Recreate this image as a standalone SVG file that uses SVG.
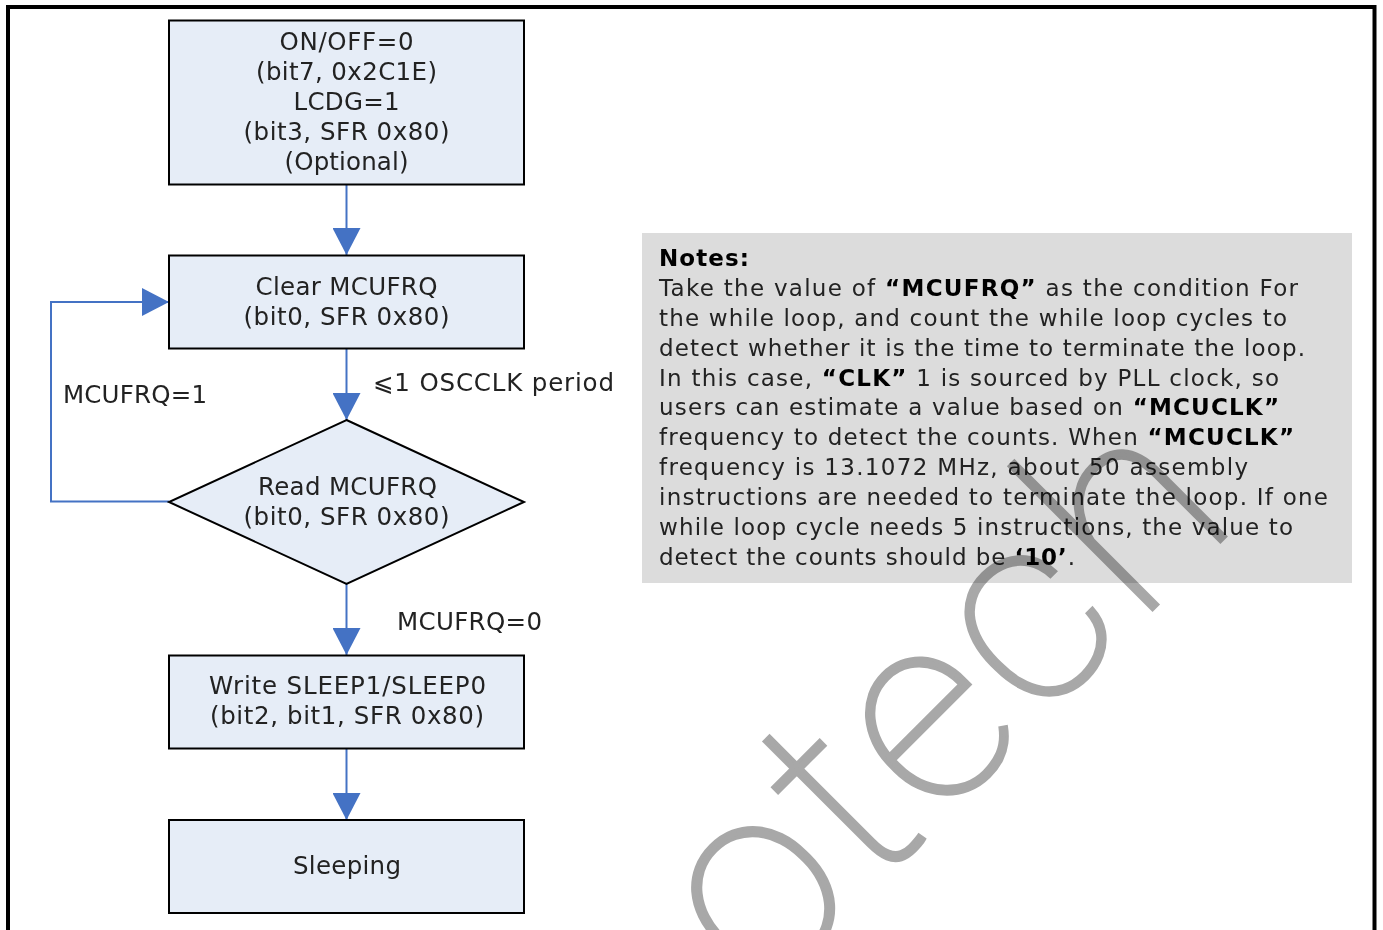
<svg xmlns="http://www.w3.org/2000/svg" width="1383" height="930" viewBox="0 0 1383 930">
  <style>
    .box { fill: #e6edf7; stroke: #000; stroke-width: 2; }
    .t { font-family: "DejaVu Sans", "Liberation Sans", sans-serif; font-size: 24.5px; fill: #222; }
    .tc { text-anchor: middle; }
    .n { font-family: "DejaVu Sans", "Liberation Sans", sans-serif; font-size: 23px; fill: #222; }
    .b { font-weight: bold; fill: #000; }
    .wire { fill: none; stroke: #4472c4; stroke-width: 2; }
    .wm { font-family: Roboto, "Liberation Sans", sans-serif; font-weight: 100; font-size: 270px; letter-spacing: 6px; fill: #a8a8a8; stroke: #a8a8a8; stroke-width: 3.5; mix-blend-mode: multiply; }
  </style>
  <defs>
    <marker id="arrow" markerUnits="userSpaceOnUse" markerWidth="28" markerHeight="28" refX="27" refY="14" orient="auto">
      <path d="M0,0 L27,14 L0,28 Z" fill="#4472c4"/>
    </marker>
  </defs>

  <rect width="1383" height="930" fill="#fff"/>
  <!-- page frame -->
  <rect x="8" y="7" width="1366.5" height="1000" fill="none" stroke="#000" stroke-width="4"/>

  <!-- notes panel -->
  <g id="notes">
    <rect x="642" y="233" width="710" height="350" fill="#dcdcdc"/>
    <text class="n b" x="659" y="266" textLength="90">Notes:</text>
    <text class="n" x="659" y="296" textLength="639">Take the value of <tspan class="b">“MCUFRQ”</tspan> as the condition For</text>
    <text class="n" x="659" y="326" textLength="628">the while loop, and count the while loop cycles to</text>
    <text class="n" x="659" y="356" textLength="646">detect whether it is the time to terminate the loop.</text>
    <text class="n" x="659" y="386" textLength="620">In this case, <tspan class="b">“CLK”</tspan> 1 is sourced by PLL clock, so</text>
    <text class="n" x="659" y="415" textLength="620">users can estimate a value based on <tspan class="b">“MCUCLK”</tspan></text>
    <text class="n" x="659" y="445" textLength="635">frequency to detect the counts. When <tspan class="b">“MCUCLK”</tspan></text>
    <text class="n" x="659" y="475" textLength="589">frequency is 13.1072 MHz, about 50 assembly</text>
    <text class="n" x="659" y="505" textLength="669">instructions are needed to terminate the loop. If one</text>
    <text class="n" x="659" y="535" textLength="634">while loop cycle needs 5 instructions, the value to</text>
    <text class="n" x="659" y="565" textLength="416">detect the counts should be <tspan class="b">‘10’</tspan>.</text>
  </g>

  <!-- connectors -->
  <g id="connectors">
    <line class="wire" x1="346.5" y1="185" x2="346.5" y2="255" marker-end="url(#arrow)"/>
    <line class="wire" x1="346.5" y1="349" x2="346.5" y2="420" marker-end="url(#arrow)"/>
    <line class="wire" x1="346.5" y1="584" x2="346.5" y2="655" marker-end="url(#arrow)"/>
    <line class="wire" x1="346.5" y1="749" x2="346.5" y2="820" marker-end="url(#arrow)"/>
    <polyline class="wire" points="169,501.5 51,501.5 51,302 169,302" marker-end="url(#arrow)"/>
    <text class="t" x="373" y="391" textLength="241">⩽1 OSCCLK period</text>
    <text class="t" x="63" y="403" textLength="144">MCUFRQ=1</text>
    <text class="t" x="397" y="630" textLength="145">MCUFRQ=0</text>
  </g>

  <g id="node-onoff">
    <rect class="box" x="169" y="20.5" width="355" height="164"/>
    <text class="t tc" x="346.5" y="50" textLength="134">ON/OFF=0</text>
    <text class="t tc" x="346.5" y="80" textLength="181">(bit7, 0x2C1E)</text>
    <text class="t tc" x="346.5" y="110" textLength="106">LCDG=1</text>
    <text class="t tc" x="346.5" y="140" textLength="206">(bit3, SFR 0x80)</text>
    <text class="t tc" x="346.5" y="170" textLength="124">(Optional)</text>
  </g>

  <g id="node-clear">
    <rect class="box" x="169" y="255.5" width="355" height="93"/>
    <text class="t tc" x="346.5" y="295" textLength="182">Clear MCUFRQ</text>
    <text class="t tc" x="346.5" y="325" textLength="206">(bit0, SFR 0x80)</text>
  </g>

  <g id="node-read">
    <polygon class="box" points="346.5,420 524,502 346.5,584 169,502"/>
    <text class="t tc" x="347.5" y="495" textLength="179">Read MCUFRQ</text>
    <text class="t tc" x="346.5" y="525" textLength="206">(bit0, SFR 0x80)</text>
  </g>

  <g id="node-write">
    <rect class="box" x="169" y="655.5" width="355" height="93"/>
    <text class="t tc" x="347.5" y="694" textLength="277">Write SLEEP1/SLEEP0</text>
    <text class="t tc" x="347" y="724" textLength="274">(bit2, bit1, SFR 0x80)</text>
  </g>

  <g id="node-sleep">
    <rect class="box" x="169" y="820" width="355" height="93"/>
    <text class="t tc" x="347" y="874" textLength="108">Sleeping</text>
  </g>

  <!-- diagonal watermark -->
  <text class="wm" x="761" y="1001" transform="rotate(-45 761 1001)">otech</text>
</svg>
